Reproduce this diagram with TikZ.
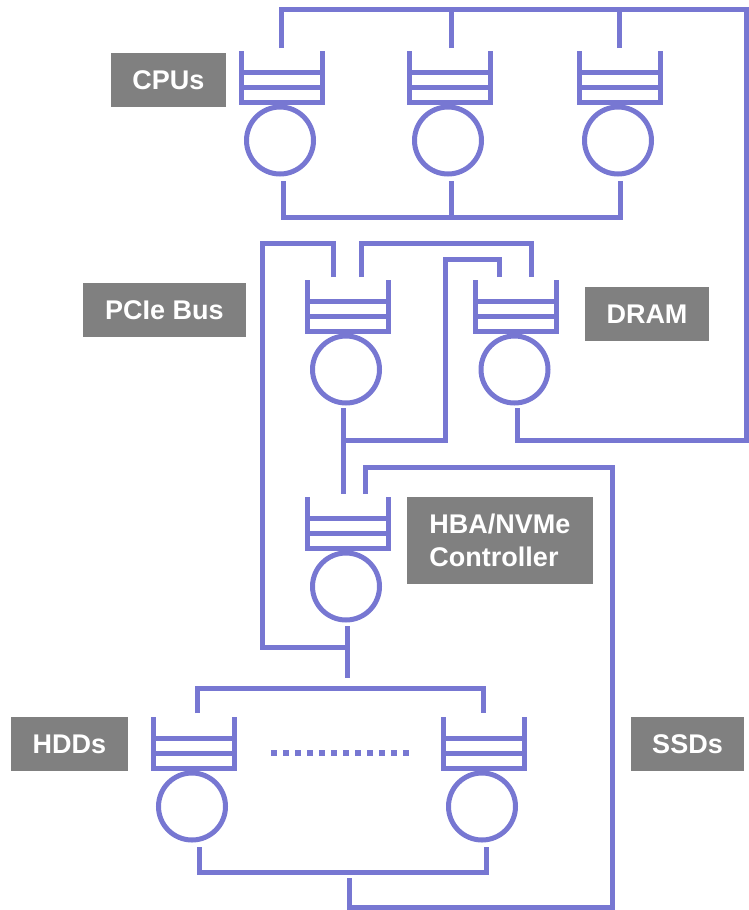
\documentclass[tikz,border=0pt]{standalone}
\usepackage{fontspec}
\setmainfont{Liberation Sans}
\definecolor{qc}{RGB}{119,119,210}
\definecolor{lg}{RGB}{128,128,128}
\newcommand\qsym[3]{%
  \draw[qline] (#2-40.5,#3) -- (#2-40.5,#3+51) -- (#2+40.5,#3+51) -- (#2+40.5,#3);
  \draw[qline] (#2-40.5,#3+21) -- (#2+40.5,#3+21);
  \draw[qline] (#2-40.5,#3+36) -- (#2+40.5,#3+36);
  \node[srv] (#1) at (#2-1.5,#3+89.5) {};
}
\begin{document}
\begin{tikzpicture}[x=1pt,y=-1pt,
  qline/.style={draw=qc,line width=5pt},
  srv/.style={circle,draw=qc,line width=5pt,minimum size=67pt,inner sep=0pt},
  lbl/.style={fill=lg,text=white,font=\fontsize{27}{33}\selectfont\bfseries,inner sep=0pt,align=left,minimum height=54pt}]
\useasboundingbox (0,0) rectangle (749,910);

% queues
\qsym{cpu1}{281.5}{51}
\qsym{cpu2}{449.5}{51}
\qsym{cpu3}{619.5}{51}
\qsym{pcie}{347.5}{280}
\qsym{dram}{516}{280}
\qsym{hba}{347.5}{497}
\qsym{hdd1}{193.5}{717}
\qsym{hdd2}{483.5}{717}

% ports
\coordinate (cpu1-in) at (281,48);
\coordinate (cpu2-in) at (451,48);
\coordinate (cpu3-in) at (619,48);
\coordinate (cpu1-out) at (283,181);
\coordinate (cpu2-out) at (451,181);
\coordinate (cpu3-out) at (620,181);
\coordinate (pcie-inL) at (333,277);
\coordinate (pcie-inR) at (361,277);
\coordinate (pcie-out) at (343,408);
\coordinate (dram-inL) at (499,277);
\coordinate (dram-inR) at (531,277);
\coordinate (dram-out) at (517,408);
\coordinate (hba-inL) at (343,494);
\coordinate (hba-inR) at (365,494);
\coordinate (hba-out) at (347,626);
\coordinate (hdd1-in) at (197,713);
\coordinate (hdd2-in) at (483,713);
\coordinate (hdd1-out) at (199,847);
\coordinate (hdd2-out) at (486,847);

% corners
\coordinate (ne) at (746,9);
\coordinate (se) at (746,440);
\coordinate (cpub) at (620,217);
\coordinate (pl) at (262,243);
\coordinate (hj) at (347,647);
\coordinate (dl) at (445,259);
\coordinate (pj) at (343,440);
\coordinate (sr) at (612,467);
\coordinate (sb) at (612,907);
\coordinate (hddj) at (349,878);
\coordinate (hbae) at (347,678);
\coordinate (htr) at (483,688);
\coordinate (hbr) at (486,872);
\coordinate (dotA) at (271,753);
\coordinate (dotB) at (410,753);

% connectors
\draw[qline] (cpu1-in) |- (ne) -- (se) -| (dram-out);
\draw[qline] (cpu2-in) -- (cpu2-in |- ne);
\draw[qline] (cpu3-in) -- (cpu3-in |- ne);
\draw[qline] (cpu1-out) |- (cpub) -- (cpu3-out);
\draw[qline] (cpu2-out) -- (cpu2-out |- cpub);
\draw[qline] (pcie-inL) |- (pl) |- (hj);
\draw[qline] (pcie-inR) |- (dram-inR |- pl) -- (dram-inR);
\draw[qline] (dram-inL) |- (dl) |- (pj);
\draw[qline] (pcie-out) -- (hba-inL);
\draw[qline] (hba-inR) |- (sr) -- (sb) -| (hddj);
\draw[qline] (hba-out) -- (hbae);
\draw[qline] (hdd1-in) |- (htr) -- (hdd2-in);
\draw[qline] (hdd1-out) |- (hbr) -- (hdd2-out);
\draw[draw=qc,line width=6pt,dash pattern=on 6pt off 6pt] (dotA) -- (dotB);

% labels
\node[lbl,minimum width=115pt] (lcpu) at (168.5,80) {CPUs};
\node[lbl,minimum width=163pt] (lpcie) at (164.5,310) {PCIe Bus};
\node[lbl,minimum width=124pt] (ldram) at (647,314) {DRAM};
\node[lbl,minimum width=186pt,minimum height=87pt] (lhba) at (500,540.5) {HBA/NVMe\\Controller};
\node[lbl,minimum width=117pt] (lhdd) at (69.5,744) {HDDs};
\node[lbl,minimum width=113pt] (lssd) at (687.5,744) {SSDs};
\end{tikzpicture}
\end{document}
